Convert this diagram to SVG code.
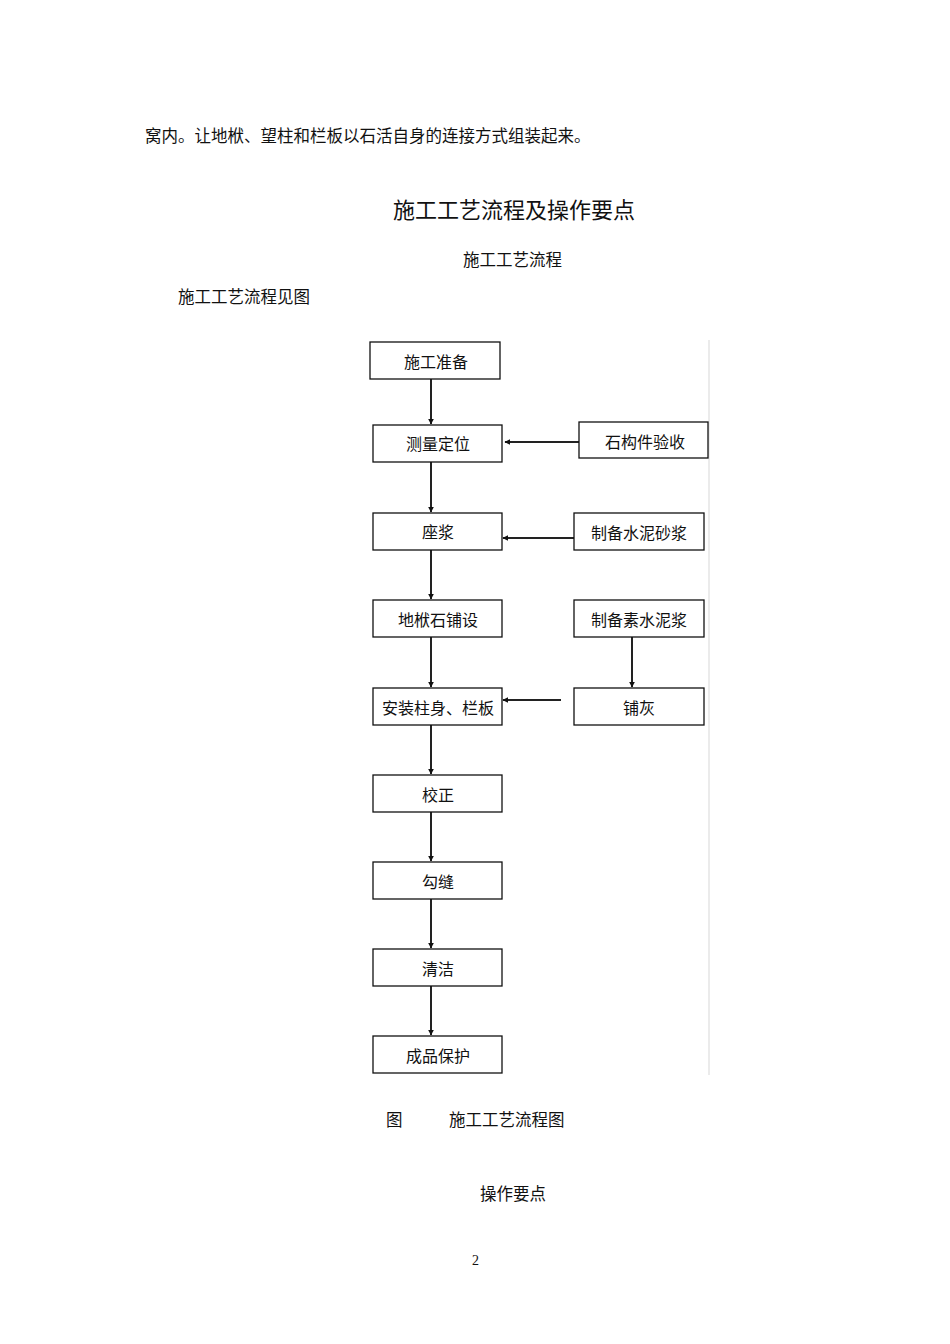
<svg xmlns="http://www.w3.org/2000/svg" width="950" height="1344" viewBox="0 0 950 1344">
<style>
text{font-family:"Liberation Serif","Noto Sans CJK SC",serif;fill:#111}
.t{font-size:16.5px}
.b rect{fill:#fff;stroke:#111;stroke-width:1.3}
.b text{font-size:16px;text-anchor:middle}
.c line{stroke:#222;stroke-width:2}
</style>
<defs>
<marker id="ah" viewBox="0 0 10 10" refX="9" refY="5" markerWidth="6" markerHeight="6" orient="auto" markerUnits="userSpaceOnUse">
<path d="M0,0 L10,5 L0,10 z" fill="#111"/>
</marker>
</defs>
<rect width="950" height="1344" fill="#fff"/>
<text class="t" x="145" y="142">窝内。让地栿、望柱和栏板以石活自身的连接方式组装起来。</text>
<text x="393" y="218" font-size="22">施工工艺流程及操作要点</text>
<text class="t" x="463" y="266">施工工艺流程</text>
<text class="t" x="178" y="303">施工工艺流程见图</text>
<line x1="709" y1="340" x2="709" y2="1075" stroke="#e4e4e4" stroke-width="1.5"/>
<g class="c">
<line x1="431" y1="379" x2="431" y2="424" marker-end="url(#ah)"/>
<line x1="431" y1="462" x2="431" y2="512" marker-end="url(#ah)"/>
<line x1="431" y1="550" x2="431" y2="599" marker-end="url(#ah)"/>
<line x1="431" y1="637" x2="431" y2="687" marker-end="url(#ah)"/>
<line x1="431" y1="725" x2="431" y2="774" marker-end="url(#ah)"/>
<line x1="431" y1="812" x2="431" y2="861" marker-end="url(#ah)"/>
<line x1="431" y1="899" x2="431" y2="948" marker-end="url(#ah)"/>
<line x1="431" y1="986" x2="431" y2="1035" marker-end="url(#ah)"/>
<line x1="579" y1="442" x2="505" y2="442" marker-end="url(#ah)"/>
<line x1="574" y1="538" x2="503" y2="538" marker-end="url(#ah)"/>
<line x1="561" y1="700" x2="503" y2="700" marker-end="url(#ah)"/>
<line x1="632" y1="637" x2="632" y2="687" marker-end="url(#ah)"/>
</g>
<g id="n1" class="b"><rect x="370" y="342" width="130" height="37"/><text x="436" y="368">施工准备</text></g>
<g id="n2" class="b"><rect x="373" y="425" width="129" height="37"/><text x="438" y="450">测量定位</text></g>
<g id="n3" class="b"><rect x="579" y="422" width="129" height="36"/><text x="645" y="448">石构件验收</text></g>
<g id="n4" class="b"><rect x="373" y="513" width="129" height="37"/><text x="438" y="538">座浆</text></g>
<g id="n5" class="b"><rect x="574" y="513" width="130" height="37"/><text x="639" y="539">制备水泥砂浆</text></g>
<g id="n6" class="b"><rect x="373" y="600" width="129" height="37"/><text x="438" y="626">地栿石铺设</text></g>
<g id="n7" class="b"><rect x="574" y="600" width="130" height="37"/><text x="639" y="626">制备素水泥浆</text></g>
<g id="n8" class="b"><rect x="373" y="688" width="129" height="37"/><text x="438" y="714">安装柱身、栏板</text></g>
<g id="n9" class="b"><rect x="574" y="688" width="130" height="37"/><text x="639" y="714">铺灰</text></g>
<g id="n10" class="b"><rect x="373" y="775" width="129" height="37"/><text x="438" y="801">校正</text></g>
<g id="n11" class="b"><rect x="373" y="862" width="129" height="37"/><text x="438" y="888">勾缝</text></g>
<g id="n12" class="b"><rect x="373" y="949" width="129" height="37"/><text x="438" y="975">清洁</text></g>
<g id="n13" class="b"><rect x="373" y="1036" width="129" height="37"/><text x="438" y="1062">成品保护</text></g>
<text class="t" x="386" y="1126">图</text>
<text class="t" x="449" y="1126">施工工艺流程图</text>
<text class="t" x="480" y="1200">操作要点</text>
<text x="472" y="1265" font-size="14">2</text>
</svg>
